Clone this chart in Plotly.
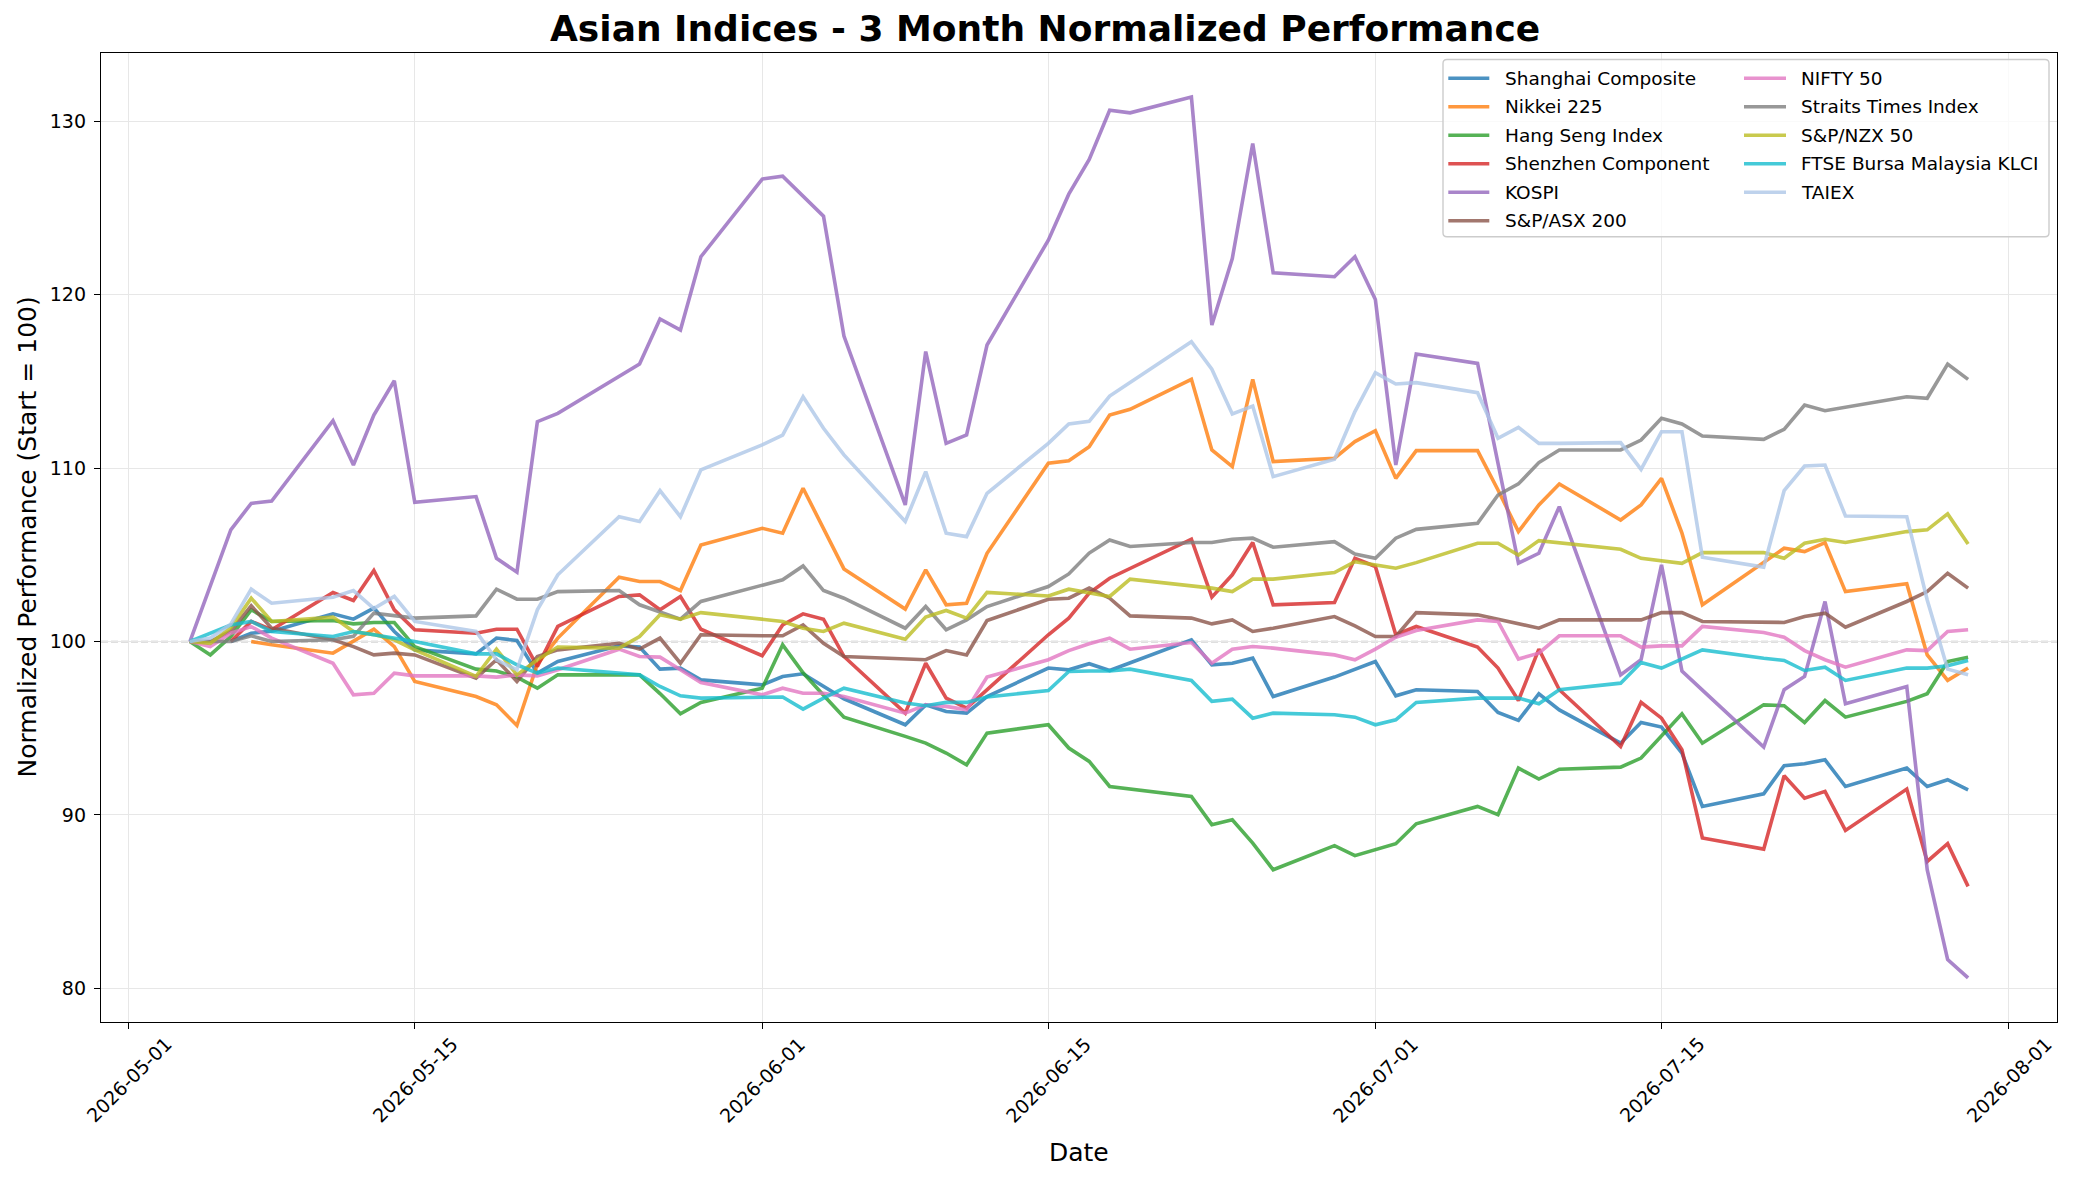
import pandas as pd
import plotly.graph_objects as go

# ---------------- data ----------------
calendar_start = "2026-05-04"
calendar_end = "2026-07-30"

index_names = [
    "Shanghai Composite", "Nikkei 225", "Hang Seng Index", "Shenzhen Component",
    "KOSPI", "S&P/ASX 200", "NIFTY 50", "Straits Times Index", "S&P/NZX 50",
    "FTSE Bursa Malaysia KLCI", "TAIEX",
]

colors = ["#1f77b4", "#ff7f0e", "#2ca02c", "#d62728", "#9467bd", "#8c564b",
          "#e377c2", "#7f7f7f", "#bcbd22", "#17becf", "#aec7e8"]

# non-trading days (market holidays) for each index
holidays_shanghai = ["2026-05-04", "2026-05-05", "2026-06-19"]
holidays_nikkei = ["2026-05-04", "2026-05-05", "2026-05-06", "2026-07-20"]
holidays_hangseng = ["2026-05-25", "2026-06-19", "2026-07-01"]
holidays_shenzhen = ["2026-05-04", "2026-05-05", "2026-06-19"]
holidays_kospi = ["2026-05-05", "2026-05-25", "2026-06-03"]
holidays_asx = ["2026-06-08"]
holidays_nifty = []
holidays_sti = ["2026-06-01"]
holidays_nzx = ["2026-06-01", "2026-07-10"]
holidays_klci = ["2026-06-01"]
holidays_taiex = ["2026-06-19"]

shanghai = [100.0, 100.48, 100.6,
            101.6, 101.29, 101.93, 100.58, 99.52,
            99.29, 100.2, 100.06, 98.18, 98.85,
            99.75, 99.68, 98.41, 98.47, 97.79,
            97.5, 97.98, 98.14, 97.4, 96.7,
            95.2, 96.35, 95.97, 95.87, 96.83,
            98.47, 98.37, 98.72, 98.33,
            100.1, 98.66, 98.75, 99.04, 96.83,
            97.95, 98.41, 98.85, 96.87, 97.22,
            97.12, 95.91, 95.45, 96.99, 96.06,
            94.14, 95.33, 95.07, 93.57, 90.49,
            91.22, 92.84, 92.95, 93.18, 91.64,
            92.7, 91.64, 92.03, 91.45]

nikkei = [100.0, 99.81,
          99.33, 100.0, 100.71, 99.71, 97.7,
          96.83, 96.35, 95.16, 98.7, 100.2,
          103.71, 103.46, 103.46, 102.94, 105.57,
          106.53, 106.25, 108.84, 106.52, 104.19,
          101.87, 104.13, 102.12, 102.21, 105.09,
          110.28, 110.43, 111.24, 113.06, 113.39,
          115.12, 111.05, 110.09, 115.12, 110.38,
          110.57, 111.53, 112.16, 109.41, 111.01,
          111.01, 108.74, 106.34, 107.88, 109.09,
          107.01, 107.88, 109.41, 106.25, 102.12,
          105.38, 105.19, 105.71, 102.88,
          103.33, 99.23, 97.76, 98.47]

hang_seng = [100.0, 99.23, 100.29, 101.83, 101.16,
             101.21, 101.02, 101.1, 101.1, 99.71,
             98.41, 98.3, 97.95, 97.31, 98.08,
             98.08, 97.0, 95.83, 96.49,
             97.31, 99.81, 98.2, 96.9, 95.64,
             94.53, 94.14, 93.57, 92.89, 94.72,
             95.2, 93.86, 93.09, 91.64,
             91.07, 89.44, 89.72, 88.38, 86.84,
             88.23, 87.65, 88.34, 89.49,
             90.49, 90.01, 92.7, 92.07, 92.64,
             92.76, 93.28, 94.57, 95.83, 94.14,
             96.35, 96.3, 95.33, 96.6, 95.64,
             96.55, 96.99, 98.85, 99.1]

shenzhen = [100.0, 101.16, 100.68,
            102.83, 102.37, 104.1, 101.83, 100.68,
            100.48, 100.71, 100.71, 98.56, 100.87,
            102.6, 102.69, 101.83, 102.6, 100.71,
            99.18, 100.96, 101.6, 101.29, 99.14,
            95.87, 98.75, 96.74, 96.16, 97.22,
            100.39, 101.35, 102.79, 103.65,
            105.9, 102.56, 103.85, 105.71, 102.12,
            102.25, 104.8, 104.33, 100.39, 100.87,
            99.68, 98.47, 96.6, 99.56, 97.22,
            93.95, 96.49, 95.58, 93.76, 88.67,
            88.03, 92.26, 90.97, 91.36, 89.11,
            91.49, 87.32, 88.34, 85.88]

kospi = [100.0, 106.44, 107.97, 108.1,
         112.74, 110.18, 113.06, 115.04, 108.03,
         108.36, 104.8, 104.0, 112.68, 113.16,
         116.0, 118.6, 117.96, 122.19,
         126.67, 126.84, 124.53, 117.62,
         107.88, 116.72, 111.43, 111.91, 117.1,
         123.15, 125.8, 127.8, 130.64, 130.49,
         131.4, 118.25, 122.09, 128.72, 121.27,
         121.04, 122.19, 119.73, 110.18, 116.58,
         116.04, 110.3, 104.52, 105.09, 107.78,
         98.08, 98.95, 104.42, 98.3, 97.2,
         93.91, 97.22, 97.99, 102.31, 96.41,
         97.41, 86.84, 81.66, 80.6]

asx200 = [100.0, 100.0, 100.6, 102.06, 100.77,
          100.1, 99.71, 99.23, 99.33, 99.23,
          97.89, 98.95, 97.7, 99.14, 99.52,
          99.9, 99.56, 100.2, 98.75, 100.39,
          100.33, 100.33, 100.96, 99.9, 99.14,
          98.95, 99.48, 99.23, 101.21,
          102.44, 102.5, 103.08, 102.5, 101.48,
          101.35, 101.02, 101.25, 100.58, 100.77,
          101.44, 100.9, 100.29, 100.29, 101.67,
          101.54, 101.29, 101.06, 100.77, 101.25,
          101.25, 101.25, 101.67, 101.67, 101.16,
          101.1, 101.1, 101.44, 101.64, 100.83,
          102.31, 102.88, 103.94, 103.08]

nifty50 = [100.0, 99.71, 100.48, 100.86, 100.2,
           98.75, 96.93, 97.02, 98.18, 98.02,
           98.02, 97.95, 98.08, 98.02, 98.37,
           99.56, 99.14, 99.1, 98.37, 97.64,
           96.93, 97.31, 97.02, 97.02, 96.83,
           95.87, 96.35, 96.26, 96.06, 97.95,
           98.95, 99.48, 99.87, 100.2, 99.56,
           99.94, 98.75, 99.56, 99.71, 99.62,
           99.23, 98.95, 99.56, 100.25, 100.64,
           101.25, 101.16, 98.99, 99.33, 100.33,
           100.33, 99.68, 99.75, 99.75, 100.87,
           100.52, 100.25, 99.48, 98.95, 98.52,
           99.52, 99.48, 100.58, 100.68]

straits_times = [100.0, 100.0, 100.0, 100.33, 100.0,
                 100.1, 100.3, 101.64, 101.5, 101.35,
                 101.48, 103.02, 102.44, 102.44, 102.88,
                 102.94, 102.12, 101.73, 101.29, 102.31,
                 103.56, 104.36, 102.94, 102.5,
                 100.77, 102.02, 100.68, 101.25, 102.02,
                 103.17, 103.9, 105.1, 105.86, 105.48,
                 105.71, 105.71, 105.9, 105.96, 105.44,
                 105.76, 105.05, 104.8, 105.96, 106.47,
                 106.82, 108.45, 109.09, 110.32, 111.05,
                 111.05, 111.62, 112.87, 112.55, 111.85,
                 111.66, 112.24, 113.64, 113.31, 113.51,
                 114.12, 114.03, 116.0, 115.12]

nzx50 = [100.0, 99.9, 100.8, 102.5, 101.16,
         101.41, 100.58, 100.4, 100.1, 99.52,
         97.99, 99.56, 98.08, 98.95, 99.68,
         99.62, 100.29, 101.54, 101.29, 101.67,
         101.16, 100.77, 100.58, 101.06,
         100.14, 101.41, 101.79, 101.35, 102.83,
         102.63, 103.02, 102.79, 102.6, 103.6,
         103.21, 103.08, 102.88, 103.6, 103.6,
         103.98, 104.61, 104.42, 104.23, 104.55,
         105.67, 105.67, 104.99, 105.82,
         105.32, 104.8, 104.67, 104.51, 105.13,
         105.13, 104.8, 105.67, 105.9, 105.71,
         106.34, 106.44, 107.36, 105.63]

klci = [100.0, 100.48, 100.96, 101.16, 100.58,
        100.29, 100.58, 100.39, 100.2, 100.0,
        99.29, 99.29, 98.66, 98.18, 98.47,
        98.18, 98.08, 97.41, 96.87, 96.74,
        96.8, 96.1, 96.74, 97.31,
        96.45, 96.3, 96.49, 96.49, 96.8,
        97.18, 98.27, 98.3, 98.3, 98.41,
        97.76, 96.55, 96.68, 95.58, 95.87,
        95.78, 95.64, 95.2, 95.49, 96.49,
        96.74, 96.74, 96.74, 96.41, 97.22,
        97.6, 98.79, 98.47, 98.98, 99.52,
        99.04, 98.91, 98.33, 98.52, 97.76,
        98.47, 98.47, 98.6, 98.91]

taiex = [100.0, 100.2, 101.0, 103.02, 102.21,
         102.55, 102.94, 101.9, 102.6, 101.16,
         100.58, 98.95, 98.37, 101.83, 103.85,
         107.2, 106.92, 108.7, 107.2, 109.9,
         111.34, 111.91, 114.12, 112.3, 110.76,
         106.92, 109.8, 106.25, 106.05, 108.55,
         111.43, 112.55, 112.7, 114.16,
         117.29, 115.7, 113.12, 113.58, 109.51,
         110.51, 113.26, 115.5, 114.85, 114.93,
         114.35, 111.72, 112.35, 111.43, 111.43,
         111.47, 109.93, 112.1, 112.1, 104.86,
         104.29, 108.7, 110.12, 110.18, 107.24,
         107.2, 102.4, 98.41, 98.08]

series_values = [shanghai, nikkei, hang_seng, shenzhen, kospi, asx200,
                 nifty50, straits_times, nzx50, klci, taiex]
series_holidays = [holidays_shanghai, holidays_nikkei, holidays_hangseng,
                   holidays_shenzhen, holidays_kospi, holidays_asx,
                   holidays_nifty, holidays_sti, holidays_nzx,
                   holidays_klci, holidays_taiex]

x_tick_dates = ["2026-05-01", "2026-05-15", "2026-06-01", "2026-06-15",
                "2026-07-01", "2026-07-15", "2026-08-01"]
y_tick_values = [80, 90, 100, 110, 120, 130]

# ---------------- layout geometry (pixels) ----------------
W, H = 2073, 1184
L, R, T, B = 101, 2057, 53, 1022


def px(x):
    return (x - L) / (R - L)


def py(y):
    return (B - y) / (B - T)


business_days = pd.bdate_range(calendar_start, calendar_end)

fig = go.Figure()

for name, color, vals, hol in zip(index_names, colors, series_values, series_holidays):
    hol_set = set(pd.to_datetime(hol))
    dates = [d for d in business_days if d not in hol_set]
    n = min(len(dates), len(vals))
    fig.add_trace(go.Scatter(
        x=dates[:n], y=vals[:n], mode="lines", name=name,
        line=dict(color=color, width=3.6), opacity=0.8, showlegend=False,
    ))

font_family = "DejaVu Sans"
tick_size = 19
legend_size = 18.5

fig.update_layout(
    width=W, height=H,
    margin=dict(l=L, r=W - R, t=T, b=H - B, pad=0),
    paper_bgcolor="white", plot_bgcolor="white",
    font=dict(family=font_family, color="black", size=18),
    showlegend=False,
)

fig.update_xaxes(
    type="date",
    range=["2026-04-29 15:36", "2026-08-03 08:24"],
    tickvals=x_tick_dates, showticklabels=False,
    ticks="outside", ticklen=6, tickwidth=1.4, tickcolor="black",
    showgrid=True, gridcolor="#e7e7e7", gridwidth=1.4,
    showline=True, linecolor="black", linewidth=1.4, mirror=True,
    zeroline=False,
)
fig.update_yaxes(
    range=[78.06, 133.94],
    tickvals=y_tick_values, ticktext=[str(v) for v in y_tick_values],
    ticks="outside", ticklen=6, tickwidth=1.4, tickcolor="black",
    tickfont=dict(size=tick_size, family=font_family),
    ticklabelstandoff=4,
    showgrid=True, gridcolor="#e7e7e7", gridwidth=1.4,
    showline=True, linecolor="black", linewidth=1.4, mirror=True,
    zeroline=False,
)

# reference line at 100
fig.add_shape(type="line", xref="paper", yref="y", x0=0, x1=1, y0=100, y1=100,
              line=dict(color="rgba(128,128,128,0.5)", width=1.8, dash="7px,3px"),
              layer="below")

annotations = []
# x tick labels (rotated 45 deg, centred under ticks)
for d in x_tick_dates:
    annotations.append(dict(
        x=d, xref="x", y=py(1080), yref="paper", text=d, showarrow=False,
        textangle=-45, xanchor="center", yanchor="middle",
        font=dict(size=tick_size, family=font_family, color="black"),
    ))

# title and axis labels
annotations.append(dict(
    x=px(1045), y=py(51), xref="paper", yref="paper", yanchor="bottom", xanchor="center",
    text="<b>Asian Indices - 3 Month Normalized Performance</b>", showarrow=False,
    font=dict(size=36, family=font_family, color="black"),
))
annotations.append(dict(
    x=0.5, y=py(1152), xref="paper", yref="paper", yanchor="middle", xanchor="center",
    text="Date", showarrow=False, font=dict(size=25, family=font_family, color="black"),
))
annotations.append(dict(
    x=px(27), y=0.5, xref="paper", yref="paper", yanchor="middle", xanchor="center",
    text="Normalized Performance (Start = 100)", textangle=-90, showarrow=False,
    font=dict(size=25, family=font_family, color="black"),
))

# ---------------- legend (two columns, upper right) ----------------
box_x0, box_x1, box_y0, box_y1 = 1443, 2049, 59.5, 236.7
rad = 4
rx = rad / (R - L)
ry = rad / (B - T)
X0, X1, Y0, Y1 = px(box_x0), px(box_x1), py(box_y0), py(box_y1)
path = (f"M {X0 + rx},{Y0} L {X1 - rx},{Y0} Q {X1},{Y0} {X1},{Y0 - ry} "
        f"L {X1},{Y1 + ry} Q {X1},{Y1} {X1 - rx},{Y1} L {X0 + rx},{Y1} "
        f"Q {X0},{Y1} {X0},{Y1 + ry} L {X0},{Y0 - ry} Q {X0},{Y0} {X0 + rx},{Y0} Z")
fig.add_shape(type="path", path=path, xref="paper", yref="paper",
              fillcolor="rgba(255,255,255,0.8)", line=dict(color="#cccccc", width=1.4),
              layer="above")

row0, row_step = 78.2, 28.5
col_line_x = [(1448.3, 1489.3), (1744.0, 1786.0)]
col_text_x = [1502.7, 1799.0]
for i, (name, color) in enumerate(zip(index_names, colors)):
    col = 0 if i < 6 else 1
    row = i if i < 6 else i - 6
    yy = row0 + row * row_step
    fig.add_shape(type="line", xref="paper", yref="paper",
                  x0=px(col_line_x[col][0]), x1=px(col_line_x[col][1]),
                  y0=py(yy), y1=py(yy),
                  line=dict(color=color, width=3.6), opacity=0.8, layer="above")
    annotations.append(dict(
        x=px(col_text_x[col]), y=py(yy), xref="paper", yref="paper",
        xanchor="left", yanchor="middle", text=name, showarrow=False,
        font=dict(size=legend_size, family=font_family, color="black"),
    ))

fig.update_layout(annotations=annotations)

fig.write_html("out.html")
